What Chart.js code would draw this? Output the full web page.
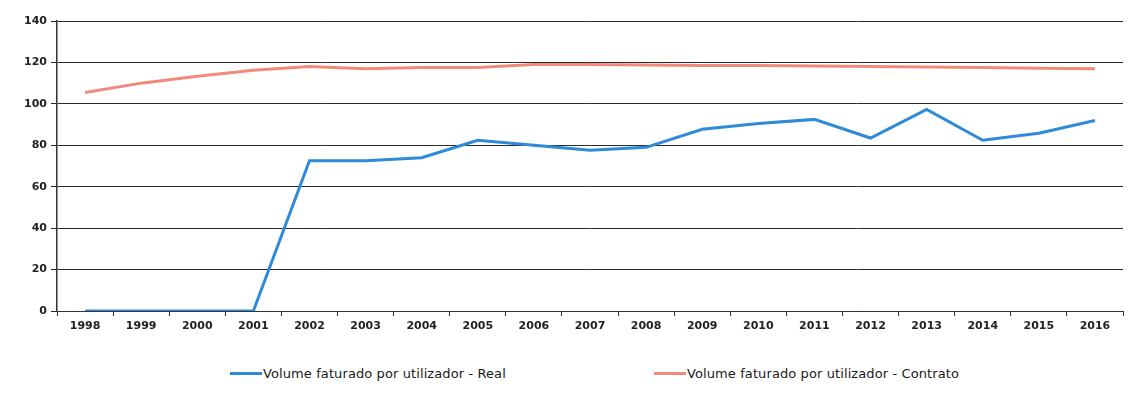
<!DOCTYPE html>
<html>
<head>
<meta charset="utf-8">
<script src="https://cdn.jsdelivr.net/npm/chart.js@4"></script>
<style>
  body { margin: 0; background: #fff; }
  #wrap { position: relative; width: 1128px; height: 350px; }
  .legend { position: absolute; top: 366px; font: 13px "DejaVu Sans", Verdana, sans-serif; color: #1a1a1a; display: flex; align-items: center; letter-spacing: 0.1px; }
  .legend span.swatch { display: inline-block; width: 32px; height: 3px; margin-right: 1px; }
</style>
</head>
<body>
<div id="wrap"><canvas id="chart"></canvas></div>
<div class="legend" style="left:230px"><span class="swatch" style="background:#2f8ad8"></span>Volume faturado por utilizador - Real</div>
<div class="legend" style="left:654px"><span class="swatch" style="background:#f28a7c"></span>Volume faturado por utilizador - Contrato</div>
<script>
// years on the x axis
const years = ["1998", "1999", "2000", "2001", "2002", "2003", "2004", "2005", "2006", "2007",
  "2008", "2009", "2010", "2011", "2012", "2013", "2014", "2015", "2016"];

// billed volume per user - actual
const realValues = [0, 0, 0, 0, 72.5, 72.5, 74, 82.4, 80, 77.6,
  79, 87.7, 90.5, 92.5, 83.5, 97.3, 82.4, 85.8, 92];

// billed volume per user - contract
const contractValues = [105.5, 110, 113.3, 116.2, 118, 117, 117.5, 117.6, 119, 119,
  118.7, 118.5, 118.5, 118.3, 118, 117.8, 117.5, 117.2, 117];

const yTicks = [0, 20, 40, 60, 80, 100, 120, 140];

const tickFont = { family: "'DejaVu Sans', Verdana, sans-serif", size: 11, weight: "bold" };

const ctx = document.getElementById("chart").getContext("2d");
new Chart(ctx, {
  type: "line",
  data: {
    labels: years,
    datasets: [
      {
        label: "Volume faturado por utilizador - Real",
        data: realValues,
        borderColor: "#2f8ad8",
        borderWidth: 3,
        pointRadius: 0,
        tension: 0,
      },
      {
        label: "Volume faturado por utilizador - Contrato",
        data: contractValues,
        borderColor: "#f28a7c",
        borderWidth: 3,
        pointRadius: 0,
        tension: 0,
      },
    ],
  },
  options: {
    responsive: true,
    maintainAspectRatio: false,
    animation: false,
    layout: { padding: { top: 21, right: 5, left: 0, bottom: 0 } },
    plugins: {
      legend: { display: false },
      tooltip: { enabled: false },
    },
    scales: {
      x: {
        offset: true,
        grid: {
          offset: true,
          drawOnChartArea: false,
          color: "#333",
          tickLength: 5,
        },
        border: { color: "#333", width: 1 },
        ticks: { color: "#222", font: tickFont, maxRotation: 0, padding: 4 },
        afterFit: (scale) => { scale.height = 39; },
      },
      y: {
        min: 0,
        max: 140,
        afterBuildTicks: (scale) => { scale.ticks = yTicks.map((v) => ({ value: v })); },
        grid: { color: "#2a2a2a", lineWidth: 1, tickLength: 6 },
        border: { color: "#333", width: 1.5 },
        ticks: { color: "#222", font: tickFont, padding: 4 },
        afterFit: (scale) => { scale.width = 57; },
      },
    },
  },
});
</script>
</body>
</html>
